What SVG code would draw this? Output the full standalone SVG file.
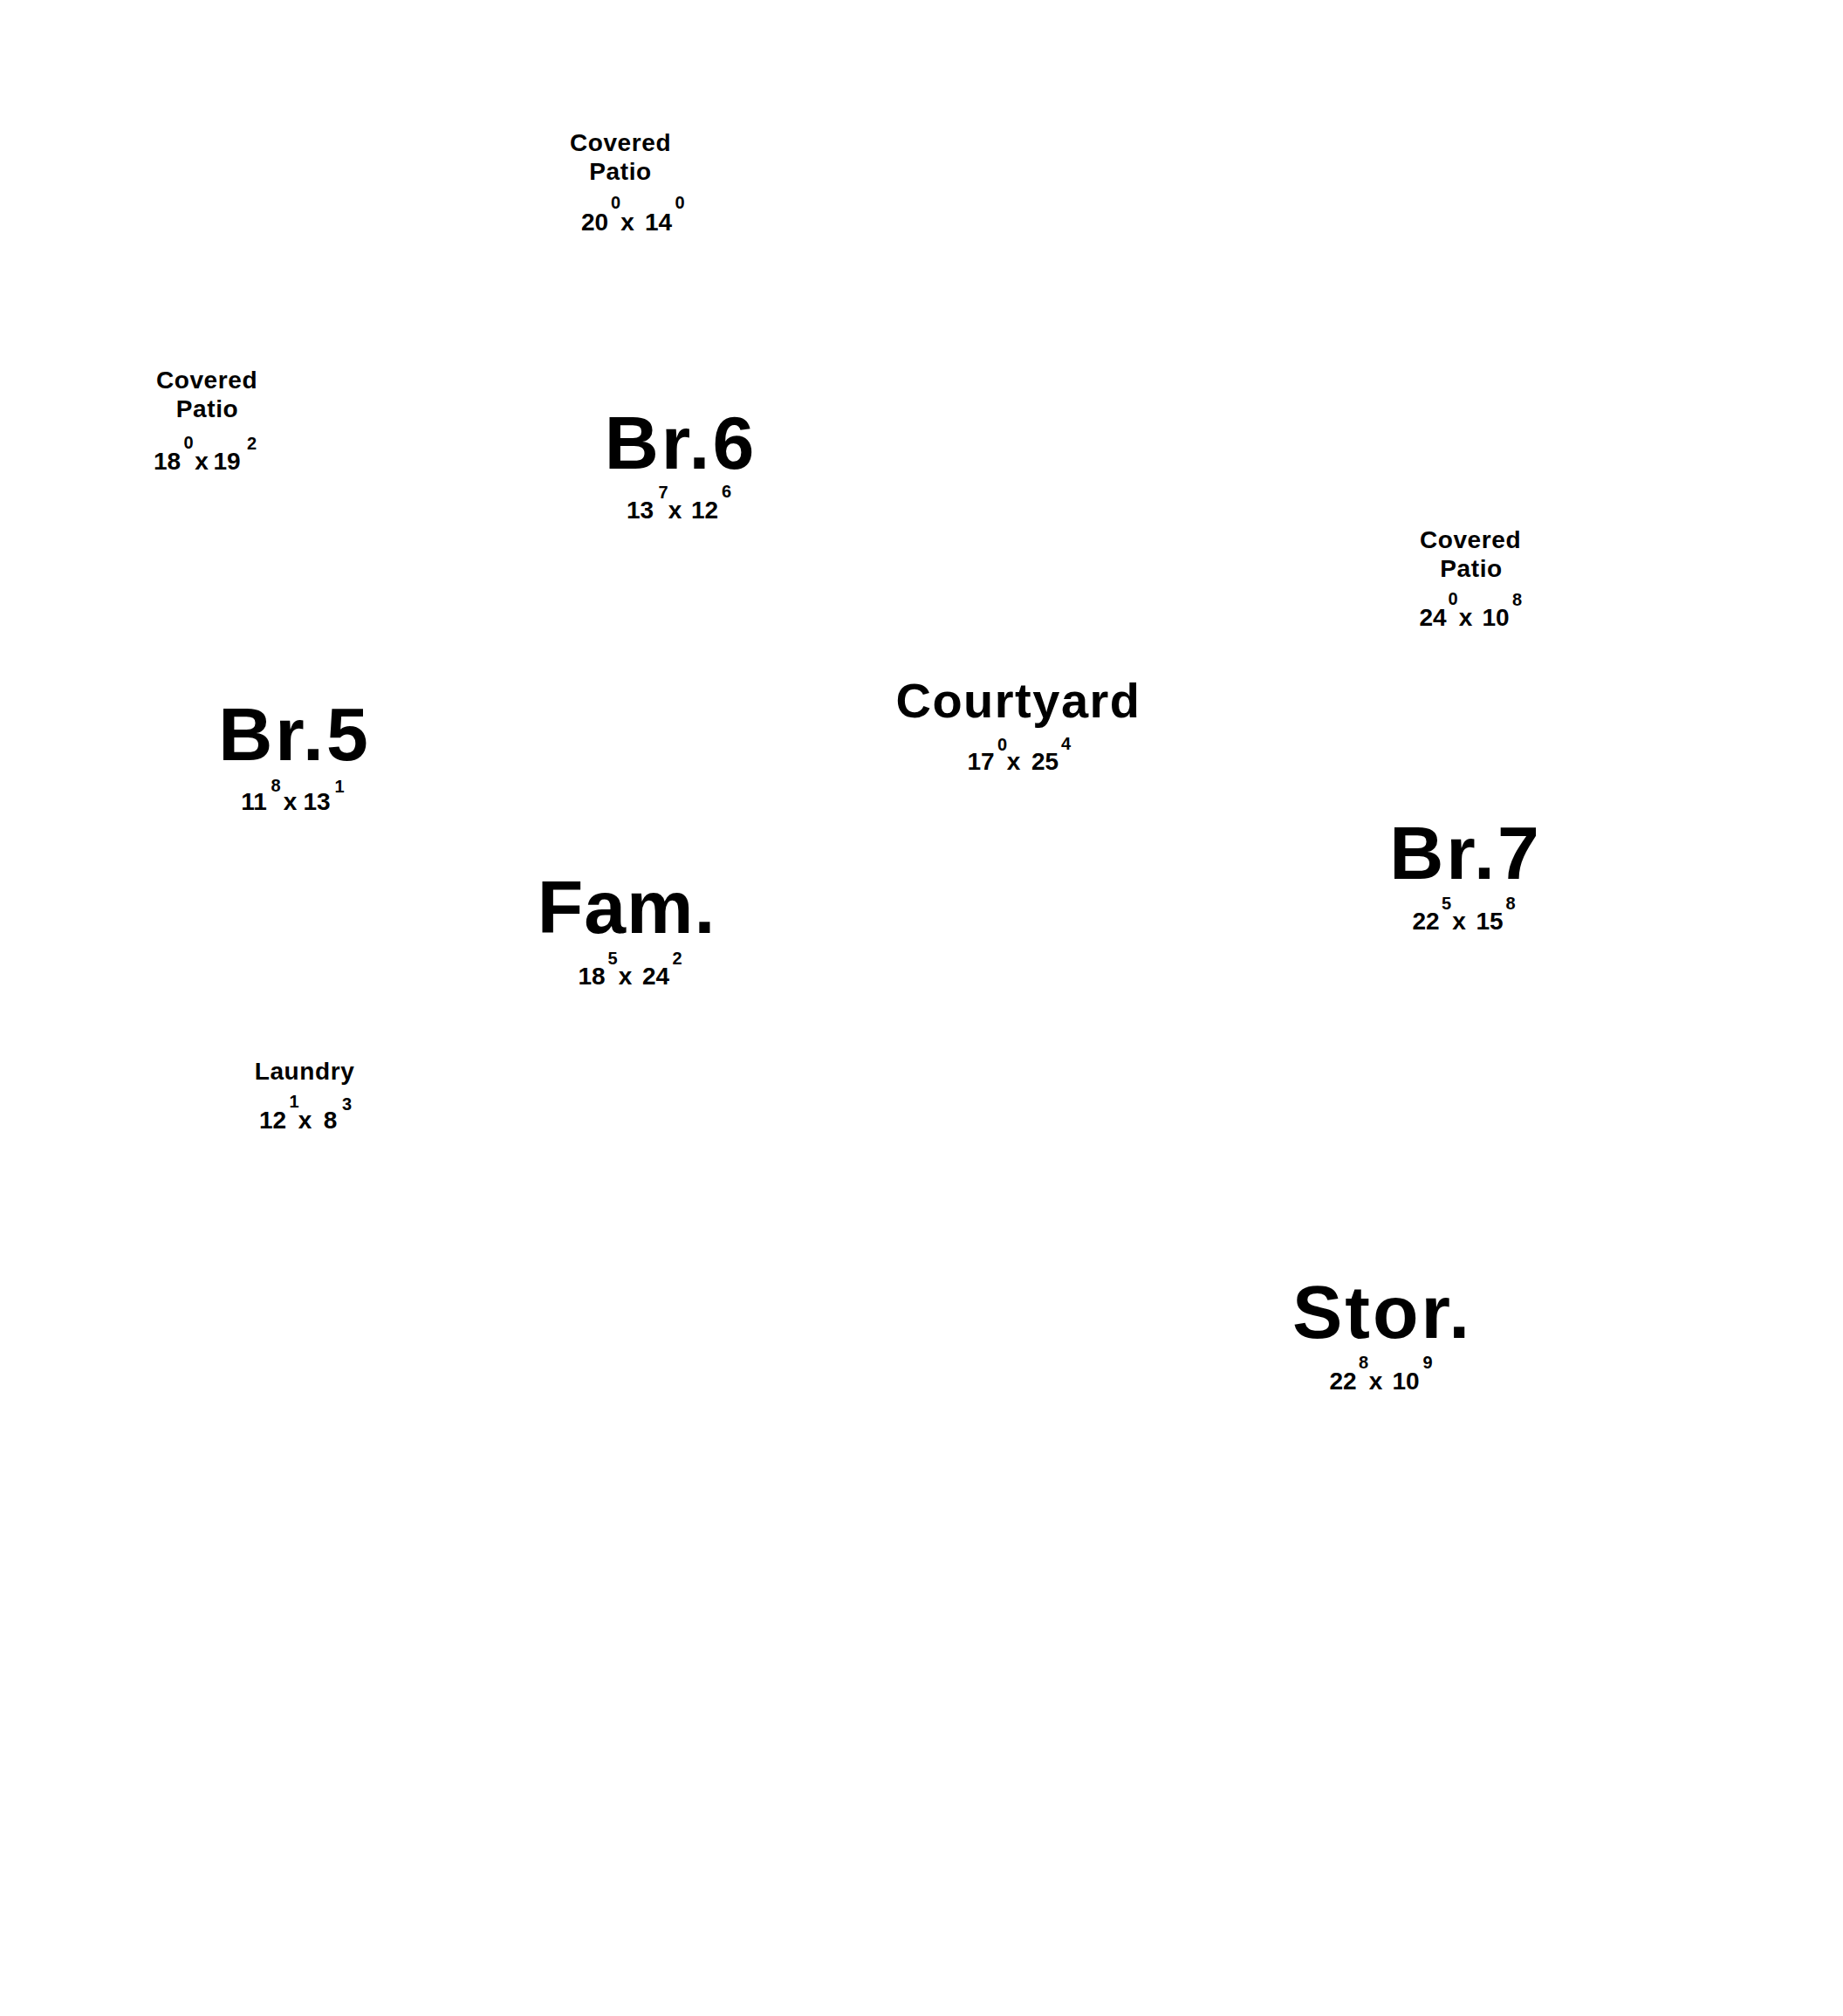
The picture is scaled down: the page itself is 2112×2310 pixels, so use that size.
<svg xmlns="http://www.w3.org/2000/svg" width="2112" height="2310" viewBox="0 0 2112 2310">
<style>
.t{font-family:"Liberation Sans",Arial,sans-serif;font-weight:bold;fill:#000;text-anchor:middle}
.big{font-size:86px;letter-spacing:3px}
.fam{font-size:86px;letter-spacing:1px}
.mid{font-size:56px;letter-spacing:1.5px}
.lbl{font-size:28px;letter-spacing:0.6px}
.dim{font-size:28px}
.sup{font-size:20px}
</style>
<rect width="2112" height="2310" fill="#fff"/>
<g id="patio-top">
<text class="t lbl" x="711" y="173">Covered</text>
<text class="t lbl" x="711" y="206">Patio</text>
<text class="t dim"><tspan x="681.5" y="264">20</tspan><tspan class="sup" x="705.5" y="239">0</tspan><tspan x="719" y="264">x</tspan><tspan x="754.5" y="264">14</tspan><tspan class="sup" x="779" y="239">0</tspan></text>
</g>
<g id="patio-left">
<text class="t lbl" x="237" y="445">Covered</text>
<text class="t lbl" x="237.5" y="478">Patio</text>
<text class="t dim"><tspan x="191.5" y="538">18</tspan><tspan class="sup" x="216" y="514">0</tspan><tspan x="231" y="538">x</tspan><tspan x="260" y="538">19</tspan><tspan class="sup" x="288.5" y="515">2</tspan></text>
</g>
<g id="br6">
<text class="t big" x="780" y="537">Br.6</text>
<text class="t dim"><tspan x="733.5" y="594">13</tspan><tspan class="sup" x="760" y="571">7</tspan><tspan x="773.5" y="594">x</tspan><tspan x="807.5" y="594">12</tspan><tspan class="sup" x="832.5" y="570">6</tspan></text>
</g>
<g id="patio-right">
<text class="t lbl" x="1685" y="628">Covered</text>
<text class="t lbl" x="1686" y="661">Patio</text>
<text class="t dim"><tspan x="1642" y="717">24</tspan><tspan class="sup" x="1665" y="693">0</tspan><tspan x="1679.5" y="717">x</tspan><tspan x="1714" y="717">10</tspan><tspan class="sup" x="1738.5" y="694">8</tspan></text>
</g>
<g id="courtyard">
<text class="t mid" x="1167" y="822">Courtyard</text>
<text class="t dim"><tspan x="1124" y="882">17</tspan><tspan class="sup" x="1148.5" y="860">0</tspan><tspan x="1161.5" y="882">x</tspan><tspan x="1197.5" y="882">25</tspan><tspan class="sup" x="1221.5" y="859">4</tspan></text>
</g>
<g id="br5">
<text class="t big" x="337.5" y="871">Br.5</text>
<text class="t dim"><tspan x="291" y="928">11</tspan><tspan class="sup" x="316" y="907">8</tspan><tspan x="332.5" y="928">x</tspan><tspan x="363" y="928">13</tspan><tspan class="sup" x="389" y="908">1</tspan></text>
</g>
<g id="br7">
<text class="t big" x="1679.5" y="1007">Br.7</text>
<text class="t dim"><tspan x="1634" y="1065">22</tspan><tspan class="sup" x="1657.5" y="1042">5</tspan><tspan x="1672" y="1065">x</tspan><tspan x="1707" y="1065">15</tspan><tspan class="sup" x="1731" y="1042">8</tspan></text>
</g>
<g id="fam">
<text class="t fam" x="718" y="1069">Fam.</text>
<text class="t dim"><tspan x="678" y="1128">18</tspan><tspan class="sup" x="702" y="1105">5</tspan><tspan x="716.5" y="1128">x</tspan><tspan x="751.5" y="1128">24</tspan><tspan class="sup" x="776" y="1105">2</tspan></text>
</g>
<g id="laundry">
<text class="t lbl" x="349" y="1237">Laundry</text>
<text class="t dim"><tspan x="312.5" y="1293">12</tspan><tspan class="sup" x="337" y="1269">1</tspan><tspan x="349.5" y="1293">x</tspan><tspan x="378.5" y="1293">8</tspan><tspan class="sup" x="397.5" y="1272">3</tspan></text>
</g>
<g id="stor">
<text class="t big" x="1584" y="1533">Stor.</text>
<text class="t dim"><tspan x="1539" y="1592">22</tspan><tspan class="sup" x="1562.5" y="1568">8</tspan><tspan x="1576.5" y="1592">x</tspan><tspan x="1611" y="1592">10</tspan><tspan class="sup" x="1636" y="1568">9</tspan></text>
</g>
<g id="connectors"></g>
</svg>
